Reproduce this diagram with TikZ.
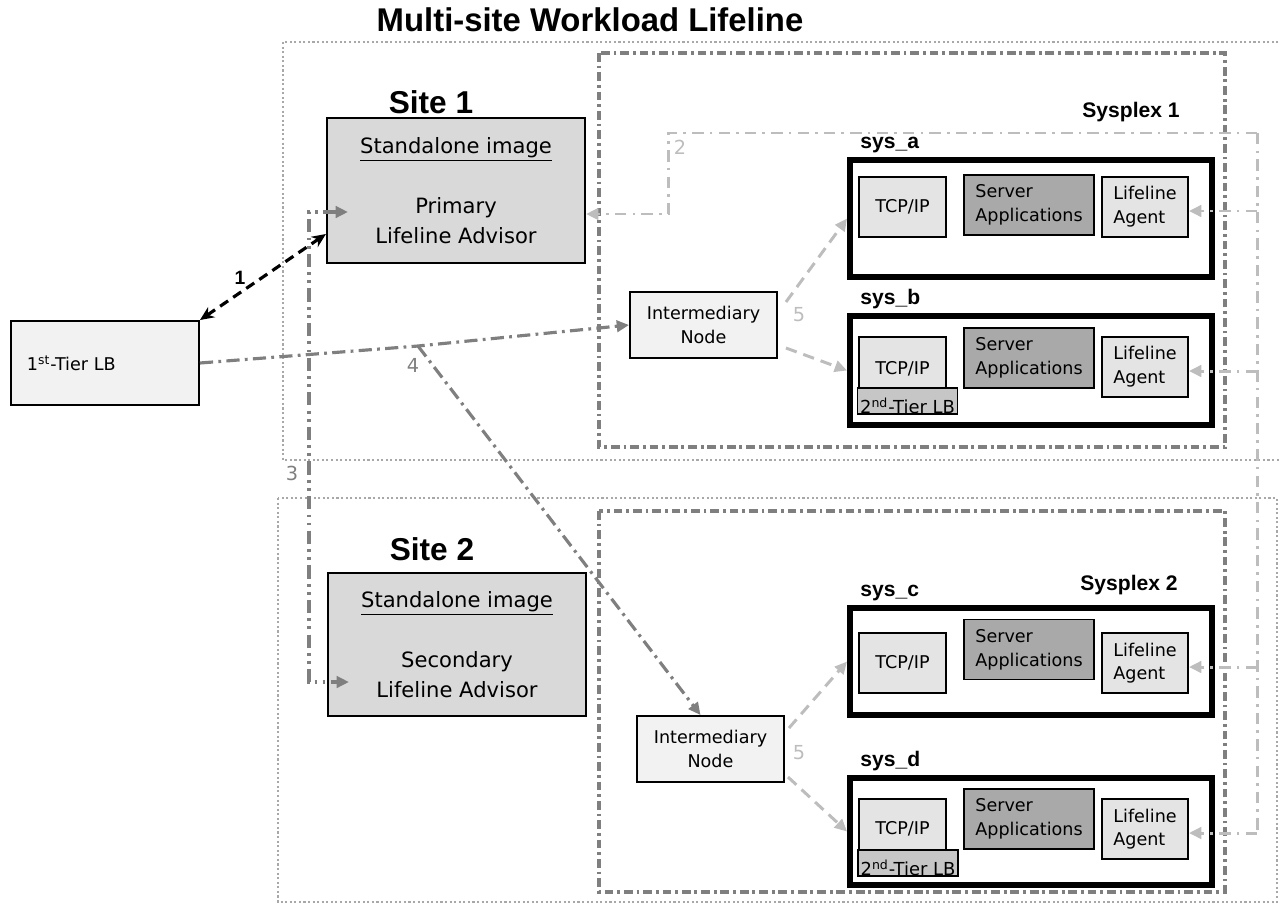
\documentclass[tikz,border=0pt]{standalone}
\usepackage{fontspec}
\setmainfont{DejaVu Sans}
\newfontfamily\arialfont{Liberation Sans}
\usetikzlibrary{arrows.meta, positioning, calc}

\newlength{\px}
\setlength{\px}{0.02cm}

\definecolor{lineGray}{HTML}{7F7F7F}
\definecolor{paleGray}{HTML}{BDBDBD}
\definecolor{siteLine}{HTML}{A8A8A8}
\definecolor{siteFill}{HTML}{D9D9D9}
\definecolor{boxFill}{HTML}{F2F2F2}
\definecolor{partFill}{HTML}{E4E4E4}
\definecolor{appFill}{HTML}{A9A9A9}
\definecolor{lbFill}{HTML}{C6C6C6}

\begin{document}
\begin{tikzpicture}[x=0.02cm, y=-0.02cm,
		siteframe/.style={draw=siteLine, line width=1.2pt, dash pattern=on 1.2pt off 1.4pt},
		plexframe/.style={draw=lineGray, line width=1.8pt, dash pattern=on 5pt off 2.2pt on 1.6pt off 2.2pt},
		imgbox/.style={draw, line width=1.2pt, fill=siteFill, minimum width=258\px, inner sep=0pt, align=center, font=\fontsize{12}{17}\selectfont},
		sysbox/.style={draw, line width=3.4pt, fill=white, minimum width=362\px, inner sep=0pt},
		partbox/.style={draw, line width=1.1pt, fill=partFill, minimum width=87\px, minimum height=60\px, inner sep=0pt, align=left, font=\fontsize{10}{13.5}\selectfont},
		appbox/.style={partbox, fill=appFill, minimum width=130\px},
		agentbox/.style={partbox, minimum width=86\px},
		tierbox/.style={partbox, fill=lbFill, minimum width=100\px, minimum height=26\px},
		nodebox/.style={partbox, fill=boxFill, minimum width=147\px, minimum height=66\px, align=center},
		lbbox/.style={draw, line width=1.1pt, fill=boxFill, minimum height=84\px, text width=156\px, inner xsep=16\px, inner ysep=0pt, align=left, font=\fontsize{10}{13.5}\selectfont},
		titletext/.style={font=\arialfont\bfseries\fontsize{18.7}{22}\selectfont},
		sitetext/.style={font=\arialfont\bfseries\fontsize{18}{22}\selectfont},
		plextext/.style={font=\arialfont\bfseries\fontsize{12}{14}\selectfont, inner sep=0pt},
		numtext/.style={font=\fontsize{11}{13}\selectfont, inner sep=0pt},
		link1/.style={black, line width=1.8pt, dash pattern=on 5.5pt off 3.5pt, arrows={Stealth[length=8pt,width=7pt]-Stealth[length=8pt,width=7pt]}},
		link2/.style={paleGray, line width=1.7pt, dash pattern=on 6.5pt off 3.5pt on 1.5pt off 3.5pt, arrows={-Triangle[length=7pt,width=6.5pt]}},
		link3/.style={lineGray, line width=1.8pt, dash pattern=on 7.5pt off 3pt on 1.6pt off 3pt on 1.6pt off 3pt, arrows={Triangle[length=7pt,width=6.5pt]-Triangle[length=7pt,width=6.5pt]}},
		link4/.style={lineGray, line width=1.8pt, dash pattern=on 7.5pt off 3pt on 1.6pt off 3pt, arrows={-Triangle[length=7pt,width=6.5pt]}},
		link5/.style={paleGray, line width=1.7pt, dash pattern=on 6.5pt off 4pt, arrows={-Triangle[length=7pt,width=6.5pt]}}
	]
	\useasboundingbox (0,0) rectangle (1280,903);

	%frames of the two sites and sysplexes
	\draw[siteframe] (283,42) rectangle (1290,460);
	\draw[siteframe] (278,498) rectangle (1277,902);
	\draw[plexframe] (599,53) rectangle (1225,447);
	\draw[plexframe] (599,511) rectangle (1225,892);

	%labels
	\node[titletext] (title) at (590,20) {Multi-site Workload Lifeline};
	\node[sitetext] (site1) at (431,102) {Site 1};
	\node[sitetext] (site2) at (432,549) {Site 2};
	\node[plextext, anchor=base] (plex1) at (1131,117) {Sysplex 1};
	\node[plextext, anchor=base] (plex2) at (1129,590) {Sysplex 2};

	%load balancer and advisors
	\node[lbbox] (lb) at (105,363) {1\textsuperscript{st}-Tier LB};
	\node[imgbox, minimum height=145\px] (site1img) at (456,190.5) {\underline{Standalone image}\\[17pt]Primary\\Lifeline Advisor};
	\node[imgbox, minimum height=143\px] (site2img) at (457,644.5) {\underline{Standalone image}\\[17pt]Secondary\\Lifeline Advisor};

	%intermediary nodes
	\node[nodebox] (inter1) at (703.5,325) {Intermediary\\Node};
	\node[nodebox] (inter2) at (710.5,749) {Intermediary\\Node};

	%systems
	\node[sysbox, minimum height=117\px] (sysA) at (1031,218.5) {};
	\node[sysbox, minimum height=109\px] (sysB) at (1031,370.5) {};
	\node[sysbox, minimum height=107\px] (sysC) at (1031,661.5) {};
	\node[sysbox, minimum height=107\px] (sysD) at (1031,831.5) {};
	\foreach \s/\t in {sysA/a, sysB/b, sysC/c, sysD/d}
		\node[plextext, anchor=base west] (lab\s) at ([shift={(13\px,9\px)}]\s.north west) {sys\_\t};

	%parts of each system
	\node[partbox] (tcpA) at (902.5,207) {TCP/IP};
	\node[partbox, minimum height=63\px] (tcpB) at (902.5,368.5) {TCP/IP};
	\node[partbox] (tcpC) at (902.5,663) {TCP/IP};
	\node[partbox, minimum height=59\px] (tcpD) at (902.5,828.5) {TCP/IP};
	\node[tierbox] (tierB) at (907.5,401) {};
	\node[tierbox] (tierD) at (908,863) {};
	\foreach \b in {tierB, tierD} {
		\begin{scope}
			\clip (\b.south west) rectangle (\b.north east);
			\node[font=\fontsize{10.2}{12}\selectfont, inner sep=0pt, anchor=base] (txt\b) at ([yshift=1.5\px]\b.south) {2\textsuperscript{nd}-Tier LB};
		\end{scope}
	}
	\node[appbox] (appA) at (1029,205) {Server\\Applications};
	\node[appbox] (appB) at (1029,358) {Server\\Applications};
	\node[appbox] (appC) at (1029,649.5) {Server\\Applications};
	\node[appbox] (appD) at (1029,819) {Server\\Applications};
	\node[agentbox] (laA) at (1145,207) {Lifeline\\Agent};
	\node[agentbox] (laB) at (1145,367) {Lifeline\\Agent};
	\node[agentbox] (laC) at (1145,663) {Lifeline\\Agent};
	\node[agentbox] (laD) at (1145,829) {Lifeline\\Agent};

	%step numbers
	\node[numtext, font=\arialfont\bfseries\fontsize{11}{13}\selectfont] (n1) at (240,278) {1};
	\node[numtext, paleGray] (n2) at (680,147) {2};
	\node[numtext, lineGray] (n3) at (292,473) {3};
	\node[numtext, lineGray] (n4) at (413,365) {4};
	\node[numtext, paleGray] (n5a) at (799,315) {5};
	\node[numtext, paleGray] (n5b) at (799,753) {5};

	%1: load balancer and primary advisor
	\draw[link1] (lb.north east) -- ([yshift=-43.5\px]site1img.west);

	%2: agents report to the primary advisor
	\coordinate (bus2) at (1257,133);
	\coordinate (bend2) at (668,133);
	\coordinate (s1back) at ([yshift=-23.5\px]site1img.east);
	\draw[link2] (bus2) -- (bend2) |- (s1back);
	\draw[link2, arrows=-] (bus2) -- ([yshift=-4\px]laD.east -| bus2);
	\foreach \la in {laA, laB, laC, laD}
		\draw[link2] ([yshift=-4\px]\la.east -| bus2) -- ([yshift=-4\px]\la.east);

	%3: primary and secondary advisor
	\coordinate (s1sync) at ([shift={(22\px,-21.5\px)}]site1img.west);
	\coordinate (s2sync) at ([shift={(22\px,-37.5\px)}]site2img.west);
	\coordinate (bend3) at (309,682);
	\draw[link3] (s1sync) -| (bend3 |- s2sync) -- (s2sync);

	%4: load balancer to intermediary nodes
	\coordinate (fork4) at (418,346);
	\draw[link4] (lb.east) -- (fork4) -- (inter1.west);
	\draw[link4] (fork4) -- ([xshift=-10\px]inter2.north);

	%5: intermediary nodes to systems
	\draw[link5] ([shift={(8\px,23\px)}]inter1.east) -- (sysA.west);
	\draw[link5] ([shift={(8\px,-23\px)}]inter1.east) -- (sysB.west);
	\draw[link5] ([shift={(4\px,21\px)}]inter2.east) -- (sysC.west);
	\draw[link5] ([shift={(3\px,-28\px)}]inter2.east) -- (sysD.west);
\end{tikzpicture}
\end{document}
